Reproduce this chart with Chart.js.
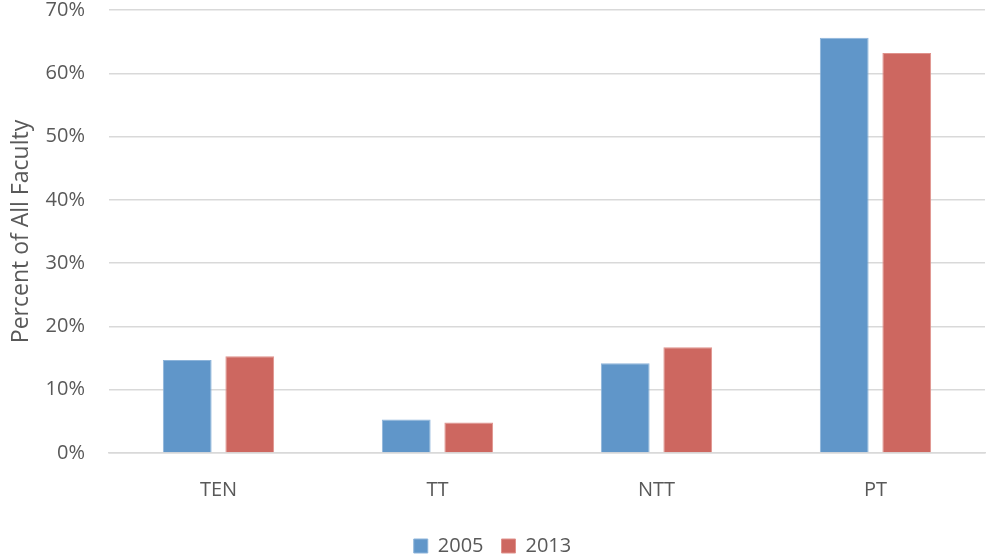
<!DOCTYPE html>
<html>
<head>
<meta charset="utf-8">
<script src="https://cdn.jsdelivr.net/npm/chart.js@4/dist/chart.umd.min.js"></script>
<style>
  html, body { margin: 0; padding: 0; background: #fff; }
  #wrap { width: 987px; height: 556px; }
</style>
</head>
<body>
<div id="wrap"><canvas id="facultyChart"></canvas></div>
<script>
var categories = ['TEN', 'TT', 'NTT', 'PT'];
var years = ['2005', '2013'];
var values2005 = [14.7, 5.3, 14.2, 65.6];
var values2013 = [15.3, 4.8, 16.7, 63.2];
var yTicks = [0, 10, 20, 30, 40, 50, 60, 70];

var textColor = '#595959';
var fontFamily = "'Open Sans', 'Liberation Sans', sans-serif";

var ctx = document.getElementById('facultyChart').getContext('2d');
var chart = new Chart(ctx, {
  type: 'bar',
  data: {
    labels: categories,
    datasets: [
      {
        label: years[0],
        data: values2005,
        backgroundColor: '#6096c9',
        borderColor: '#8db4da',
        borderWidth: 1
      },
      {
        label: years[1],
        data: values2013,
        backgroundColor: '#cd6760',
        borderColor: '#e0928c',
        borderWidth: 1
      }
    ]
  },
  options: {
    responsive: true,
    maintainAspectRatio: false,
    animation: false,
    layout: {
      padding: { top: 10, right: 2, left: 0, bottom: -10 }
    },
    datasets: {
      bar: {
        categoryPercentage: 0.571,
        barPercentage: 0.78
      }
    },
    plugins: {
      legend: {
        position: 'bottom',
        labels: {
          color: textColor,
          font: { family: fontFamily, size: 20 },
          boxWidth: 14,
          boxHeight: 14,
          padding: 18
        }
      },
      tooltip: { enabled: false }
    },
    scales: {
      x: {
        grid: { display: false, drawTicks: false },
        border: { color: '#d9d9d9', width: 1.5 },
        ticks: {
          color: textColor,
          font: { family: fontFamily, size: 20 },
          padding: 25
        },
        afterFit: function(scale) {
          scale.height = 65;
          scale.paddingLeft = 0;
          scale.paddingRight = 0;
        }
      },
      y: {
        min: 0,
        max: 70,
        afterBuildTicks: function(scale) {
          scale.ticks = yTicks.map(function(v) { return { value: v }; });
        },
        grid: { color: '#d9d9d9', lineWidth: 1.5, drawTicks: false },
        border: { display: false },
        ticks: {
          color: textColor,
          font: { family: fontFamily, size: 20 },
          padding: 24,
          callback: function(v) { return v + '%'; }
        },
        title: {
          display: true,
          text: 'Percent of All Faculty',
          color: textColor,
          font: { family: fontFamily, size: 23 },
          padding: { top: 8, bottom: 4 }
        },
        afterFit: function(scale) {
          scale.width = 109;
          scale.paddingTop = 0;
          scale.paddingBottom = 0;
        }
      }
    }
  }
});
</script>
</body>
</html>
